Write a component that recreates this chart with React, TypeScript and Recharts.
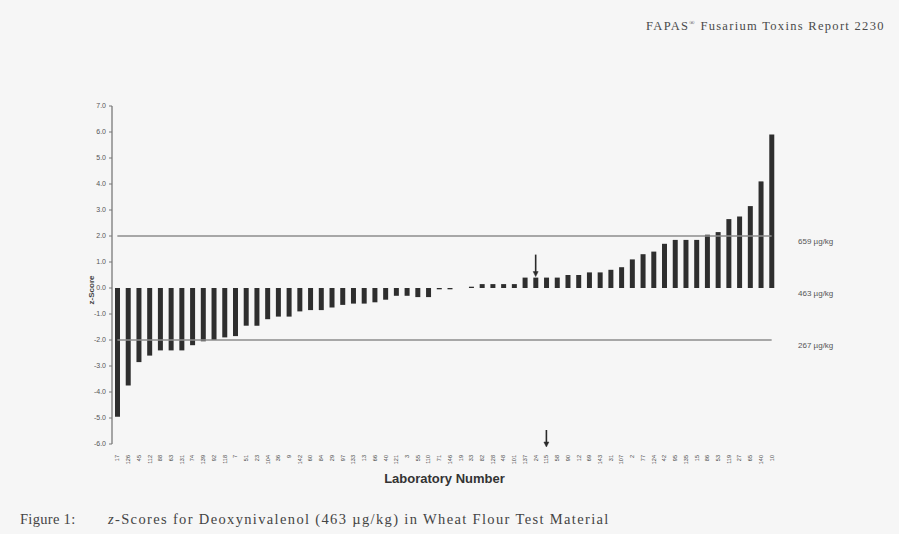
import {
  BarChart,
  Bar,
  XAxis,
  YAxis,
  ReferenceLine,
  ReferenceDot,
  Label,
} from 'recharts'

// laboratory numbers, in plotted order (low to high z-score)
const labs = [
  '17', '126', '45', '112', '88', '63', '131', '74', '139', '92',
  '118', '7', '51', '23', '104', '36', '9', '142', '60', '84',
  '29', '97', '133', '13', '66', '40', '121', '3', '55', '110',
  '71', '146', '19', '33', '82', '128', '48', '101', '137', '24',
  '115', '58', '90', '12', '69', '143', '31', '107', '2', '77',
  '124', '42', '95', '135', '15', '86', '53', '119', '27', '65',
  '140', '10',
]

const zScores = [
  -4.95, -3.75, -2.85, -2.6, -2.4, -2.4, -2.4, -2.2, -2.05, -2.0,
  -1.9, -1.85, -1.45, -1.45, -1.2, -1.1, -1.1, -0.9, -0.85, -0.85,
  -0.75, -0.65, -0.6, -0.6, -0.55, -0.45, -0.3, -0.3, -0.35, -0.35,
  -0.05, -0.05, 0, 0.05, 0.15, 0.15, 0.15, 0.15, 0.4, 0.4,
  0.4, 0.4, 0.5, 0.5, 0.6, 0.6, 0.7, 0.8, 1.1, 1.3,
  1.4, 1.7, 1.85, 1.85, 1.85, 2.05, 2.15, 2.65, 2.75, 3.15,
  4.1, 5.9,
]

const yTicks = [7, 6, 5, 4, 3, 2, 1, 0, -1, -2, -3, -4, -5, -6]

// z = 2, 0, -2 expressed as concentrations
const limitZ = [2, 0, -2]
const limitText = ['659 µg/kg', '463 µg/kg', '267 µg/kg']

const markedLab = '24'
const markedLabAxis = '115'

const data = labs.map((lab, i) => ({ lab, z: zScores[i] }))

const LabTick = ({ x, y, payload }: any) => (
  <text
    transform={`translate(${x + 2},${y + 1}) rotate(-90)`}
    textAnchor="end"
    fontSize={5.5}
    fill="#444"
    fontFamily="Liberation Sans, Arial, sans-serif"
  >
    {payload.value}
  </text>
)

const DownArrow = (len: number, lift: number) => (props: any) => {
  const { cx, cy } = props
  const tip = cy - lift
  return (
    <g stroke="#2a2a2a" fill="#2a2a2a">
      <line x1={cx} y1={tip - len} x2={cx} y2={tip - 3} strokeWidth={1.6} />
      <path d={`M${cx - 2.5},${tip - 5} L${cx + 2.5},${tip - 5} L${cx},${tip} Z`} strokeWidth={0.5} />
    </g>
  )
}

export default function App() {
  const font = 'Liberation Sans, Arial, sans-serif'
  return (
    <div style={{ position: 'absolute', left: 0, top: 0, width: 899, height: 534, background: '#f6f6f6' }}>
      <div
        style={{
          position: 'absolute', left: 646, top: 19, fontFamily: 'Liberation Serif, serif',
          fontSize: 12.5, letterSpacing: 1.3, color: '#4a4a4a', whiteSpace: 'nowrap',
        }}
      >
        FAPAS<sup style={{ fontSize: 7 }}>®</sup> Fusarium Toxins Report 2230
      </div>
      <BarChart
        width={899}
        height={534}
        data={data}
        margin={{ top: 106, right: 122, bottom: 0, left: 0 }}
        barCategoryGap={0}
      >
        <XAxis
          dataKey="lab"
          interval={0}
          axisLine={false}
          tickLine={false}
          height={90}
          tick={<LabTick />}
          tickMargin={4}
        >
          <Label
            value="Laboratory Number"
            position="insideTop"
            offset={30}
            fontSize={13}
            fontWeight="bold"
            fill="#333"
            fontFamily={font}
          />
        </XAxis>
        <YAxis
          width={112}
          domain={[-6, 7]}
          ticks={yTicks}
          interval={0}
          tickFormatter={(v: number) => v.toFixed(1)}
          tick={{ fontSize: 7, fill: '#555', fontFamily: font }}
          tickSize={3}
          tickMargin={3}
          axisLine={{ stroke: '#555', strokeWidth: 1 }}
          tickLine={{ stroke: '#777' }}
        >
          <Label
            content={({ viewBox }: any) => (
              <text
                transform={`translate(${viewBox.x + 94},${viewBox.y + viewBox.height / 2 + 15}) rotate(-90)`}
                textAnchor="middle"
                fontSize={8}
                fontWeight="bold"
                fill="#444"
                fontFamily={font}
              >
                z-Score
              </text>
            )}
          />
        </YAxis>
        {limitZ.map((z, i) => (
          <ReferenceLine
            key={`lbl${z}`}
            y={z}
            stroke="none"
            label={{
              value: limitText[i], position: 'right', offset: 21, dy: 5,
              fontSize: 8, fill: '#555', fontFamily: font,
            }}
          />
        ))}
        {limitZ.filter((z) => z !== 0).map((z) => (
          <ReferenceLine
            key={`seg${z}`}
            segment={[{ x: labs[0], y: z }, { x: labs[labs.length - 1], y: z }]}
            stroke="#8c8c8c"
            strokeWidth={1.6}
          />
        ))}
        <Bar dataKey="z" fill="#2e2e2e" barSize={5} isAnimationActive={false} />
        <ReferenceDot
          x={markedLab}
          y={zScores[labs.indexOf(markedLab)]}
          shape={DownArrow(22, 1)}
        />
        <ReferenceDot x={markedLabAxis} y={-6} shape={DownArrow(17, -3)} />
      </BarChart>
      <div
        style={{
          position: 'absolute', left: 20, top: 511, fontFamily: 'Liberation Serif, serif',
          fontSize: 14.5, letterSpacing: 1.35, color: '#444', whiteSpace: 'nowrap',
        }}
      >
        <span style={{ display: 'inline-block', width: 88, letterSpacing: 0.3 }}>Figure 1:</span>
        <i>z</i>-Scores for Deoxynivalenol (463 µg/kg) in Wheat Flour Test Material
      </div>
    </div>
  )
}
